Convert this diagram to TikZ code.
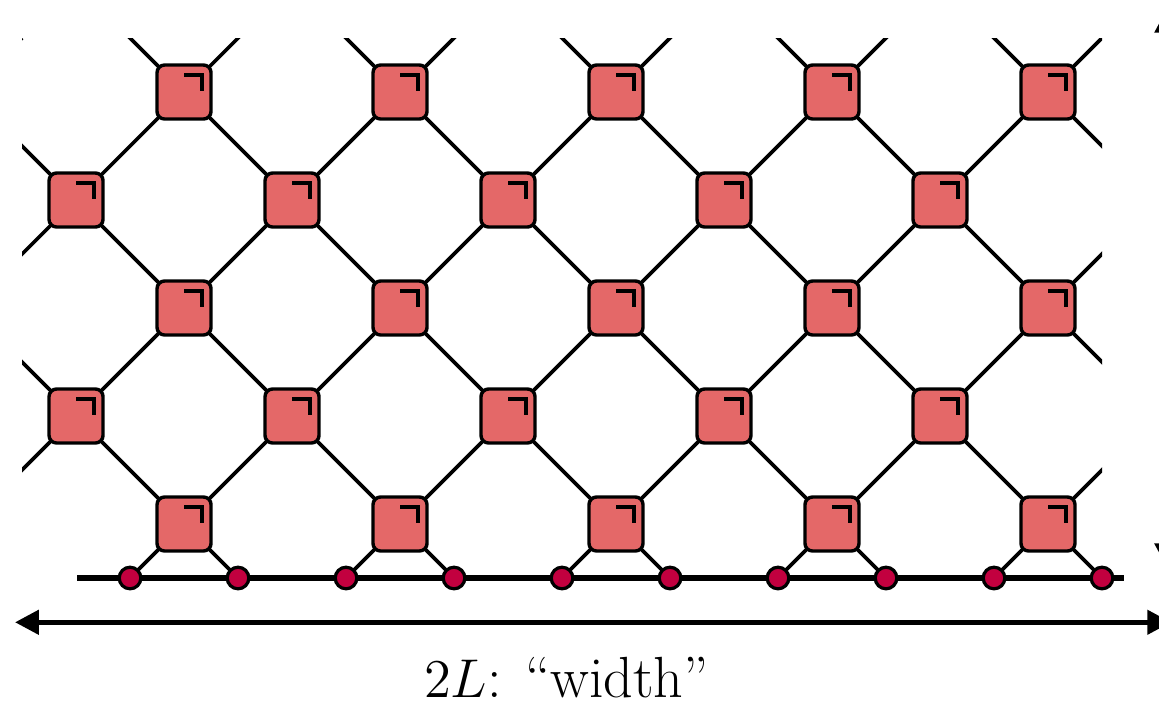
\documentclass[tikz,border=0pt]{standalone}
\usepackage{amsmath}
\usepackage{tikz}
\usetikzlibrary{arrows.meta,positioning,backgrounds}
\definecolor{gatefill}{HTML}{E46868}
\definecolor{sitefill}{HTML}{C2003F}

\tikzset{
  gate/.style={draw=black,line width=0.9pt,fill=gatefill,rounded corners=0.07cm,
    minimum size=0.5cm,inner sep=0pt,
    path picture={\draw[line width=1.1pt,sharp corners]
      ([shift={(0,0.157)}]path picture bounding box.center) -- ++(0.167,0) -- ++(0,-0.145);}},
  site/.style={circle,draw=black,line width=0.85pt,fill=sitefill,minimum size=0.2cm,inner sep=0pt},
  leg/.style={line width=0.95pt},
}

\begin{document}
\begin{tikzpicture}[>=Latex]
\useasboundingbox (-0.204,-1.176) rectangle (10.528,5.352);

% ---------- gates: five rows, brick-wall layout ----------
\foreach \r in {1,...,5}
  \foreach \k in {1,...,5} {
    \pgfmathsetmacro\gx{2*\k-1.5+mod(\r,2)}
    \node[gate] (g\r\k) at (\gx,\r-0.5) {};
  }

% ---------- sites on the chain ----------
\foreach \i in {1,...,10}
  \node[site] (s\i) at (\i,0) {};

% ---------- legs, behind the gates ----------
\begin{scope}[on background layer]
  \draw[line width=1.8pt] (0.51,0) -- (10.2,0);
  \begin{scope}
    \clip (0,0) rectangle (10,5);
    % between odd and even rows
    \foreach \r in {1,3} {
      \pgfmathtruncatemacro\rr{\r+1}
      \foreach \k in {1,...,5} \draw[leg] (g\r\k.center) -- (g\rr\k.center);
      \foreach \k [evaluate=\k as \kk using int(\k+1)] in {1,...,4}
        \draw[leg] (g\r\k.center) -- (g\rr\kk.center);
    }
    % between even and odd rows
    \foreach \r in {2,4} {
      \pgfmathtruncatemacro\rr{\r+1}
      \foreach \k in {1,...,5} \draw[leg] (g\r\k.center) -- (g\rr\k.center);
      \foreach \k [evaluate=\k as \kk using int(\k-1)] in {2,...,5}
        \draw[leg] (g\r\k.center) -- (g\rr\kk.center);
    }
    % open legs, cut at the frame
    \foreach \k in {1,...,5}
      \draw[leg] (g5\k.center) ++(-1,1) -- (g5\k.center) -- ++(1,1);
    \draw[leg] (g55.center) -- ++(1,-1);
    \draw[leg] (g35.center) ++(1,1) -- (g35.center) -- ++(1,-1);
    \draw[leg] (g15.center) -- ++(1,1);
    \foreach \r in {2,4}
      \draw[leg] (g\r1.center) ++(-1,1) -- (g\r1.center) -- ++(-1,-1);
    \coordinate (cut) at (0,5);
    \draw[leg] (cut) ++(-0.5,-0.5) -- (cut);
  \end{scope}
  % bottom gates onto the chain
  \foreach \k [evaluate=\k as \a using int(2*\k-1), evaluate=\k as \b using int(2*\k)] in {1,...,5}
    \draw[leg] (s\a.center) -- (g1\k.center) -- (s\b.center);
\end{scope}

% ---------- size arrows ----------
\coordinate (wl) at (-0.065,-0.41);
\coordinate (wr) at (10.64,-0.41);
\draw[{Triangle[length=2.2mm,width=2.2mm]}-{Triangle[length=2.2mm,width=2.2mm]},line width=1.3pt] (wl) -- (wr);
\coordinate (hb) at (10.60,0.10);
\coordinate (ht) at (10.60,5.27);
\draw[{Triangle[length=2.2mm,width=2.2mm]}-{Triangle[length=2.2mm,width=2.2mm]},line width=1.3pt] (hb) -- (ht);
\node[anchor=base,font=\fontsize{15.3}{18}\selectfont] (wlabel) at (5.04,-1.11) {$2L$: ``width''};
\end{tikzpicture}
\end{document}
